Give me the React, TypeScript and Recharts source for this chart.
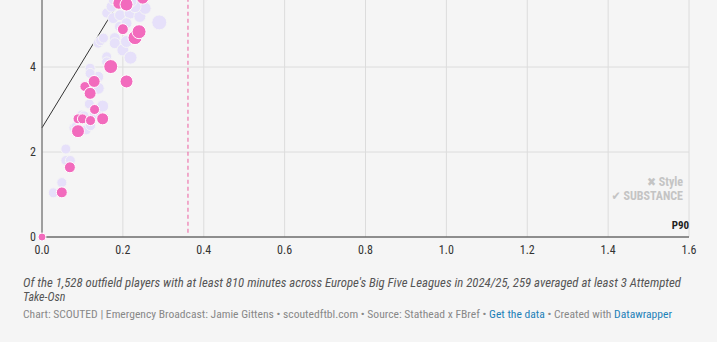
import React from "react";
import {
  ScatterChart,
  Scatter,
  XAxis,
  YAxis,
  ZAxis,
  CartesianGrid,
  ReferenceLine,
} from "recharts";

// Highlighted players (pink)
const pinkX = [0, 0.049, 0.069, 0.089, 0.089, 0.1, 0.12, 0.13, 0.15, 0.106, 0.119, 0.129, 0.17, 0.209, 0.2, 0.23, 0.24, 0.19, 0.209, 0.249];
const pinkY = [0, 1.05, 1.64, 2.49, 2.78, 2.78, 2.74, 3.0, 2.78, 3.54, 3.38, 3.66, 4.01, 3.66, 4.89, 4.69, 4.83, 5.5, 5.47, 5.62];
const pinkZ = [16, 30, 30, 42, 25, 25, 25, 25, 36, 25, 36, 36, 49, 42, 30, 49, 49, 36, 42, 36];

// Other players (lavender)
const otherX = [0.028, 0.049, 0.059, 0.059, 0.07, 0.079, 0.084, 0.109, 0.098, 0.104, 0.117, 0.12, 0.13, 0.14, 0.15, 0.139, 0.139, 0.119, 0.119, 0.16, 0.16, 0.139, 0.145, 0.152, 0.18, 0.18, 0.2, 0.209, 0.219, 0.29, 0.16, 0.176, 0.172, 0.193, 0.218, 0.242, 0.255, 0.23, 0.176, 0.193, 0.209, 0.2, 0.22];
const otherY = [1.04, 1.28, 2.07, 1.8, 1.8, 2.57, 2.6, 2.52, 2.87, 2.85, 3.13, 2.62, 2.9, 2.95, 3.08, 3.5, 3.77, 3.97, 3.85, 4.24, 4.12, 4.56, 4.62, 4.68, 4.68, 4.56, 4.4, 4.6, 4.22, 5.05, 5.27, 5.15, 5.42, 5.22, 5.27, 5.19, 5.38, 5.42, 5.58, 4.95, 5.03, 5.58, 5.55];
const otherZ = [25, 25, 25, 25, 25, 25, 25, 25, 25, 25, 25, 25, 25, 25, 36, 36, 30, 25, 25, 25, 25, 25, 25, 25, 30, 30, 36, 36, 42, 56, 25, 30, 30, 30, 36, 36, 36, 36, 25, 30, 30, 25, 36];

const xTicks = [0, 0.2, 0.4, 0.6, 0.8, 1.0, 1.2, 1.4, 1.6];
const yTicks = [0, 2, 4];
const p90X = 0.361;
const trendStart = { x: 0, y: 2.57 };
const trendEnd = { x: 0.22, y: 6 };

const pinkData = pinkX.map((x, i) => ({ x, y: pinkY[i], z: pinkZ[i] }));
const otherData = otherX.map((x, i) => ({ x, y: otherY[i], z: otherZ[i] }));

const FONT = "'Roboto Condensed', 'Liberation Sans Narrow', 'DejaVu Sans Condensed', Roboto, sans-serif";

export default function App() {
  return (
    <div
      style={{
        position: "absolute",
        left: 0,
        top: 0,
        width: 717,
        height: 342,
        background: "#f5f5f5",
        overflow: "hidden",
        fontFamily: FONT,
      }}
    >
      <div style={{ position: "absolute", left: 0, top: -18 }}>
        <ScatterChart
          width={717}
          height={280}
          margin={{ top: 0, right: 28, bottom: 0, left: 0 }}
        >
          <CartesianGrid stroke="#dcdcdc" strokeWidth={1} />
          <XAxis
            type="number"
            dataKey="x"
            domain={[0, 1.6]}
            ticks={xTicks}
            tickFormatter={(v: number) => v.toFixed(1)}
            tickLine={false}
            tickSize={0}
            tickMargin={8}
            height={25}
            stroke="#333"
            tick={{ fill: "#333", fontSize: 12, fontFamily: FONT }}
            interval={0}
          />
          <YAxis
            type="number"
            dataKey="y"
            domain={[0, 6]}
            ticks={yTicks}
            tickLine={false}
            tickSize={0}
            tickMargin={6}
            width={42}
            stroke="#555"
            tick={{ fill: "#333", fontSize: 12, fontFamily: FONT }}
          />
          <ZAxis type="number" dataKey="z" domain={[0, 60]} range={[0, 188.5]} />
          <ReferenceLine
            segment={[
              { x: p90X, y: 0.1 },
              { x: p90X, y: 6 },
            ]}
            stroke="#ec5fa0"
            strokeDasharray="4 3"
            strokeWidth={1}
            ifOverflow="visible"
          />
          <Scatter
            data={otherData}
            fill="#e6e0fa"
            stroke="#f5f5f5"
            strokeWidth={1}
            isAnimationActive={false}
          />
          <Scatter
            data={pinkData}
            fill="#f26bbd"
            stroke="#ffffff"
            strokeWidth={1}
            isAnimationActive={false}
          />
          <ReferenceLine
            segment={[trendStart, trendEnd]}
            stroke="#333"
            strokeWidth={1}
            ifOverflow="visible"
          />
        </ScatterChart>
      </div>
      <svg
        width={717}
        height={342}
        style={{ position: "absolute", left: 0, top: 0, pointerEvents: "none" }}
        fontFamily={FONT}
      >
        <text x={683} y={186} textAnchor="end" fontSize={12} fontWeight="bold" fill="#c4c4c4">
          ✖ Style
        </text>
        <text x={683} y={199.5} textAnchor="end" fontSize={12} fontWeight="bold" fill="#c4c4c4">
          ✔ SUBSTANCE
        </text>
        <text x={689} y={228.5} textAnchor="end" fontSize={11} fontWeight="bold" fill="#222">
          P90
        </text>
        <text
          x={23}
          y={287}
          fontSize={12}
          fontStyle="italic"
          fill="#555"
          textLength={658}
          lengthAdjust="spacingAndGlyphs"
        >
          Of the 1,528 outfield players with at least 810 minutes across Europe's Big Five Leagues in 2024/25, 259 averaged at least 3 Attempted
        </text>
        <text x={23} y={300.5} fontSize={12} fontStyle="italic" fill="#555">
          Take-Osn
        </text>
        <text
          x={23}
          y={318}
          fontSize={10}
          fill="#888"
          textLength={649}
          lengthAdjust="spacingAndGlyphs"
        >
          Chart: SCOUTED | Emergency Broadcast: Jamie Gittens • scoutedftbl.com • Source: Stathead x FBref •{" "}
          <tspan fill="#1d81b8">Get the data</tspan> • Created with <tspan fill="#1d81b8">Datawrapper</tspan>
        </text>
      </svg>
    </div>
  );
}
